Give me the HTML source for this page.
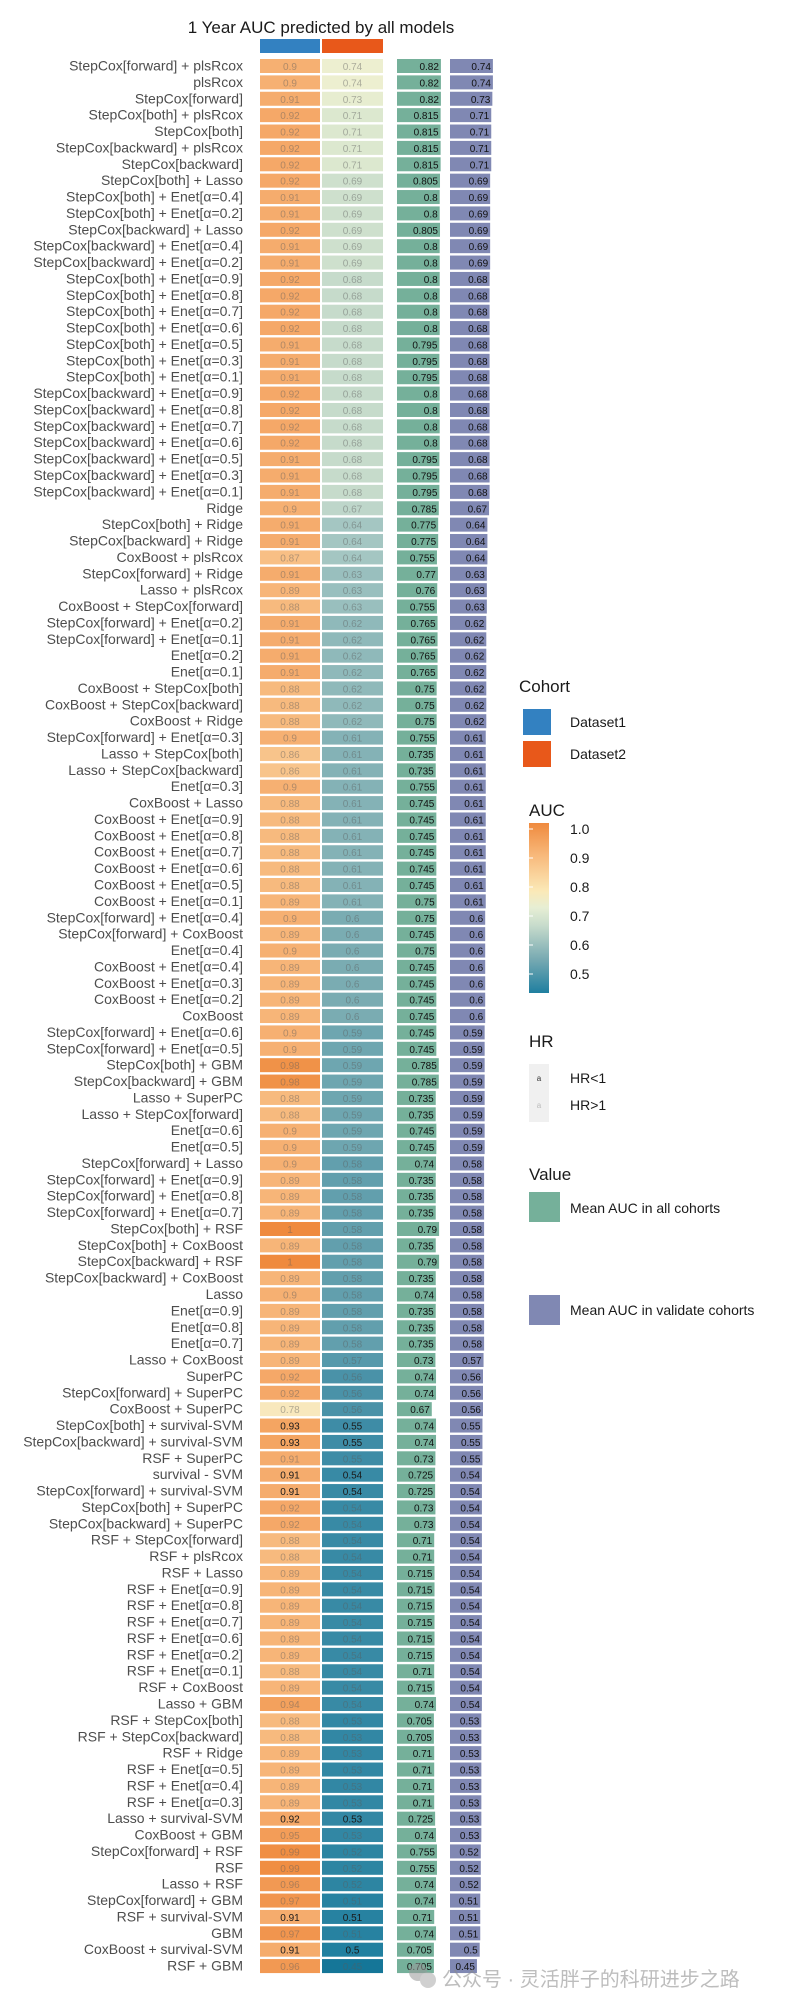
<!DOCTYPE html>
<html><head><meta charset="utf-8"><style>
html,body{margin:0;padding:0;background:#fff;}
svg{display:block;font-family:"Liberation Sans","Noto Sans CJK SC",sans-serif;}
</style></head><body>
<svg id="chart" width="800" height="2000" viewBox="0 0 800 2000" xmlns="http://www.w3.org/2000/svg">
<text x="321" y="33" font-size="17" text-anchor="middle" fill="#1a1a1a">1 Year AUC predicted by all models</text>
<rect x="260" y="39" width="60" height="14" fill="#3381c1"/>
<rect x="322" y="39" width="61" height="14" fill="#e8581a"/>
<g id="rows"></g>
<g>
<text x="519" y="692" font-size="17" fill="#1a1a1a">Cohort</text>
<rect x="523" y="709" width="28" height="26" fill="#3381c1"/>
<text x="570" y="727" font-size="14" fill="#1a1a1a">Dataset1</text>
<rect x="523" y="741" width="28" height="26" fill="#e8581a"/>
<text x="570" y="759" font-size="14" fill="#1a1a1a">Dataset2</text>
<text x="529" y="816" font-size="17" fill="#1a1a1a">AUC</text>
<defs><linearGradient id="cb" x1="0" y1="1" x2="0" y2="0">
<stop offset="0" stop-color="#1f7fa0"/><stop offset="0.2" stop-color="#78aab2"/><stop offset="0.4" stop-color="#c8dccc"/><stop offset="0.5" stop-color="#e6eed4"/><stop offset="0.6" stop-color="#fbe9b7"/><stop offset="0.8" stop-color="#f8bb7e"/><stop offset="1" stop-color="#ef8a3e"/></linearGradient></defs>
<rect x="529" y="823" width="20" height="170" fill="url(#cb)"/>
<g font-size="14" fill="#1a1a1a" id="cbticks"></g>
<text x="529" y="1047" font-size="17" fill="#1a1a1a">HR</text>
<rect x="529" y="1064" width="20" height="58" fill="#f0f0f0"/>
<text x="539" y="1081" font-size="8" fill="#333" text-anchor="middle">a</text>
<text x="539" y="1108" font-size="8" fill="#bbb" text-anchor="middle">a</text>
<text x="570" y="1083" font-size="14" fill="#1a1a1a">HR&lt;1</text>
<text x="570" y="1110" font-size="14" fill="#1a1a1a">HR&gt;1</text>
<text x="529" y="1180" font-size="17" fill="#1a1a1a">Value</text>
<rect x="529" y="1192" width="31" height="30" fill="#75b09a"/>
<text x="570" y="1213" font-size="14" fill="#1a1a1a">Mean AUC in all cohorts</text>
<rect x="529" y="1295" width="31" height="30" fill="#8088b3"/>
<text x="570" y="1315" font-size="14" fill="#1a1a1a">Mean AUC in validate cohorts</text>
</g>
<g opacity="0.55">
<circle cx="418" cy="1972" r="9" fill="#999"/><circle cx="428" cy="1980" r="8" fill="#aaa"/>
<text x="442" y="1986" font-size="20" fill="#888">公众号 · 灵活胖子的科研进步之路</text>
</g>
</svg>
<script>
const labels=["StepCox[forward] + plsRcox","plsRcox","StepCox[forward]","StepCox[both] + plsRcox","StepCox[both]","StepCox[backward] + plsRcox","StepCox[backward]","StepCox[both] + Lasso","StepCox[both] + Enet[α=0.4]","StepCox[both] + Enet[α=0.2]","StepCox[backward] + Lasso","StepCox[backward] + Enet[α=0.4]","StepCox[backward] + Enet[α=0.2]","StepCox[both] + Enet[α=0.9]","StepCox[both] + Enet[α=0.8]","StepCox[both] + Enet[α=0.7]","StepCox[both] + Enet[α=0.6]","StepCox[both] + Enet[α=0.5]","StepCox[both] + Enet[α=0.3]","StepCox[both] + Enet[α=0.1]","StepCox[backward] + Enet[α=0.9]","StepCox[backward] + Enet[α=0.8]","StepCox[backward] + Enet[α=0.7]","StepCox[backward] + Enet[α=0.6]","StepCox[backward] + Enet[α=0.5]","StepCox[backward] + Enet[α=0.3]","StepCox[backward] + Enet[α=0.1]","Ridge","StepCox[both] + Ridge","StepCox[backward] + Ridge","CoxBoost + plsRcox","StepCox[forward] + Ridge","Lasso + plsRcox","CoxBoost + StepCox[forward]","StepCox[forward] + Enet[α=0.2]","StepCox[forward] + Enet[α=0.1]","Enet[α=0.2]","Enet[α=0.1]","CoxBoost + StepCox[both]","CoxBoost + StepCox[backward]","CoxBoost + Ridge","StepCox[forward] + Enet[α=0.3]","Lasso + StepCox[both]","Lasso + StepCox[backward]","Enet[α=0.3]","CoxBoost + Lasso","CoxBoost + Enet[α=0.9]","CoxBoost + Enet[α=0.8]","CoxBoost + Enet[α=0.7]","CoxBoost + Enet[α=0.6]","CoxBoost + Enet[α=0.5]","CoxBoost + Enet[α=0.1]","StepCox[forward] + Enet[α=0.4]","StepCox[forward] + CoxBoost","Enet[α=0.4]","CoxBoost + Enet[α=0.4]","CoxBoost + Enet[α=0.3]","CoxBoost + Enet[α=0.2]","CoxBoost","StepCox[forward] + Enet[α=0.6]","StepCox[forward] + Enet[α=0.5]","StepCox[both] + GBM","StepCox[backward] + GBM","Lasso + SuperPC","Lasso + StepCox[forward]","Enet[α=0.6]","Enet[α=0.5]","StepCox[forward] + Lasso","StepCox[forward] + Enet[α=0.9]","StepCox[forward] + Enet[α=0.8]","StepCox[forward] + Enet[α=0.7]","StepCox[both] + RSF","StepCox[both] + CoxBoost","StepCox[backward] + RSF","StepCox[backward] + CoxBoost","Lasso","Enet[α=0.9]","Enet[α=0.8]","Enet[α=0.7]","Lasso + CoxBoost","SuperPC","StepCox[forward] + SuperPC","CoxBoost + SuperPC","StepCox[both] + survival-SVM","StepCox[backward] + survival-SVM","RSF + SuperPC","survival - SVM","StepCox[forward] + survival-SVM","StepCox[both] + SuperPC","StepCox[backward] + SuperPC","RSF + StepCox[forward]","RSF + plsRcox","RSF + Lasso","RSF + Enet[α=0.9]","RSF + Enet[α=0.8]","RSF + Enet[α=0.7]","RSF + Enet[α=0.6]","RSF + Enet[α=0.2]","RSF + Enet[α=0.1]","RSF + CoxBoost","Lasso + GBM","RSF + StepCox[both]","RSF + StepCox[backward]","RSF + Ridge","RSF + Enet[α=0.5]","RSF + Enet[α=0.4]","RSF + Enet[α=0.3]","Lasso + survival-SVM","CoxBoost + GBM","StepCox[forward] + RSF","RSF","Lasso + RSF","StepCox[forward] + GBM","RSF + survival-SVM","GBM","CoxBoost + survival-SVM","RSF + GBM"];
const dataset1=[0.9,0.9,0.91,0.92,0.92,0.92,0.92,0.92,0.91,0.91,0.92,0.91,0.91,0.92,0.92,0.92,0.92,0.91,0.91,0.91,0.92,0.92,0.92,0.92,0.91,0.91,0.91,0.9,0.91,0.91,0.87,0.91,0.89,0.88,0.91,0.91,0.91,0.91,0.88,0.88,0.88,0.9,0.86,0.86,0.9,0.88,0.88,0.88,0.88,0.88,0.88,0.89,0.9,0.89,0.9,0.89,0.89,0.89,0.89,0.9,0.9,0.98,0.98,0.88,0.88,0.9,0.9,0.9,0.89,0.89,0.89,1,0.89,1,0.89,0.9,0.89,0.89,0.89,0.89,0.92,0.92,0.78,0.93,0.93,0.91,0.91,0.91,0.92,0.92,0.88,0.88,0.89,0.89,0.89,0.89,0.89,0.89,0.88,0.89,0.94,0.88,0.88,0.89,0.89,0.89,0.89,0.92,0.95,0.99,0.99,0.96,0.97,0.91,0.97,0.91,0.96];
const dataset2=[0.74,0.74,0.73,0.71,0.71,0.71,0.71,0.69,0.69,0.69,0.69,0.69,0.69,0.68,0.68,0.68,0.68,0.68,0.68,0.68,0.68,0.68,0.68,0.68,0.68,0.68,0.68,0.67,0.64,0.64,0.64,0.63,0.63,0.63,0.62,0.62,0.62,0.62,0.62,0.62,0.62,0.61,0.61,0.61,0.61,0.61,0.61,0.61,0.61,0.61,0.61,0.61,0.6,0.6,0.6,0.6,0.6,0.6,0.6,0.59,0.59,0.59,0.59,0.59,0.59,0.59,0.59,0.58,0.58,0.58,0.58,0.58,0.58,0.58,0.58,0.58,0.58,0.58,0.58,0.57,0.56,0.56,0.56,0.55,0.55,0.55,0.54,0.54,0.54,0.54,0.54,0.54,0.54,0.54,0.54,0.54,0.54,0.54,0.54,0.54,0.54,0.53,0.53,0.53,0.53,0.53,0.53,0.53,0.53,0.52,0.52,0.52,0.51,0.51,0.51,0.5,0.45];
const meanAll=[0.82,0.82,0.82,0.815,0.815,0.815,0.815,0.805,0.8,0.8,0.805,0.8,0.8,0.8,0.8,0.8,0.8,0.795,0.795,0.795,0.8,0.8,0.8,0.8,0.795,0.795,0.795,0.785,0.775,0.775,0.755,0.77,0.76,0.755,0.765,0.765,0.765,0.765,0.75,0.75,0.75,0.755,0.735,0.735,0.755,0.745,0.745,0.745,0.745,0.745,0.745,0.75,0.75,0.745,0.75,0.745,0.745,0.745,0.745,0.745,0.745,0.785,0.785,0.735,0.735,0.745,0.745,0.74,0.735,0.735,0.735,0.79,0.735,0.79,0.735,0.74,0.735,0.735,0.735,0.73,0.74,0.74,0.67,0.74,0.74,0.73,0.725,0.725,0.73,0.73,0.71,0.71,0.715,0.715,0.715,0.715,0.715,0.715,0.71,0.715,0.74,0.705,0.705,0.71,0.71,0.71,0.71,0.725,0.74,0.755,0.755,0.74,0.74,0.71,0.74,0.705,0.705];
const meanValidate=[0.74,0.74,0.73,0.71,0.71,0.71,0.71,0.69,0.69,0.69,0.69,0.69,0.69,0.68,0.68,0.68,0.68,0.68,0.68,0.68,0.68,0.68,0.68,0.68,0.68,0.68,0.68,0.67,0.64,0.64,0.64,0.63,0.63,0.63,0.62,0.62,0.62,0.62,0.62,0.62,0.62,0.61,0.61,0.61,0.61,0.61,0.61,0.61,0.61,0.61,0.61,0.61,0.6,0.6,0.6,0.6,0.6,0.6,0.6,0.59,0.59,0.59,0.59,0.59,0.59,0.59,0.59,0.58,0.58,0.58,0.58,0.58,0.58,0.58,0.58,0.58,0.58,0.58,0.58,0.57,0.56,0.56,0.56,0.55,0.55,0.55,0.54,0.54,0.54,0.54,0.54,0.54,0.54,0.54,0.54,0.54,0.54,0.54,0.54,0.54,0.54,0.53,0.53,0.53,0.53,0.53,0.53,0.53,0.53,0.52,0.52,0.52,0.51,0.51,0.51,0.5,0.45];
const hrBelowOneRows=[83,84,86,87,107,113,115];
const cbTicks=[1.0,0.9,0.8,0.7,0.6,0.5];

const svgNS="http://www.w3.org/2000/svg";
const rowTop=59, pitch=16.38, cellH=14;
const yOf=i=>rowTop+i*pitch;
const stops=[[0.45,[21,118,152]],[0.5,[33,128,160]],[0.55,[62,140,166]],[0.6,[122,172,178]],[0.65,[174,204,198]],[0.7,[214,229,207]],[0.75,[243,242,208]],[0.8,[251,226,176]],[0.9,[246,176,114]],[1.0,[239,138,62]]];
function colorOf(v){
  if(v<=stops[0][0])return `rgb(${stops[0][1]})`;
  for(let k=1;k<stops.length;k++){if(v<=stops[k][0]){const a=stops[k-1],b=stops[k],t=(v-a[0])/(b[0]-a[0]);return `rgb(${a[1].map((c,j)=>Math.round(c+(b[1][j]-c)*t)).join(',')})`;}}
  return `rgb(${stops[stops.length-1][1]})`;
}
const wAll=v=>(v-0.1)*61, wVal=v=>(v+0.04)*55;
function mk(tag,attrs,parent){const e=document.createElementNS(svgNS,tag);for(const k in attrs)e.setAttribute(k,attrs[k]);parent.appendChild(e);return e;}
const g=document.getElementById('rows');
const fmt=v=>String(+v.toFixed(3));
labels.forEach((lab,i)=>{
  const y=yOf(i), cy=y+cellH/2+4.5, dark=hrBelowOneRows.includes(i);
  const t=mk('text',{x:243,y:cy,'font-size':14,'text-anchor':'end',fill:'#4d4d4d'},g);
  
  
  t.textContent=lab;
  [[dataset1[i],260,60],[dataset2[i],322,61]].forEach(([v,x,w],c)=>{
    const r=mk('rect',{x:x,y:y,width:w,height:cellH,fill:colorOf(v)},g);
    
    
    const tx=mk('text',{x:x+w/2,y:y+11,'font-size':10,'text-anchor':'middle',fill:dark?'#1a1a1a':'rgba(90,90,90,0.45)'},g);
    
    
    tx.textContent=fmt(v);
  });
  const ba=mk('rect',{x:397,y:y,width:wAll(meanAll[i]),height:cellH,fill:'#75b09a'},g);
  
  
  const ta=mk('text',{x:397+wAll(meanAll[i])-2,y:y+11,'font-size':10,'text-anchor':'end',fill:'#111'},g);
  
  
  ta.textContent=fmt(meanAll[i]);
  const bv=mk('rect',{x:450,y:y,width:wVal(meanValidate[i]),height:cellH,fill:'#8088b3'},g);
  
  
  const tv=mk('text',{x:450+wVal(meanValidate[i])-2,y:y+11,'font-size':10,'text-anchor':'end',fill:'#111'},g);
  
  
  tv.textContent=fmt(meanValidate[i]);
});
const cbg=document.getElementById('cbticks');
const cbY=v=>974-(v-0.5)/0.5*145;
cbTicks.forEach(v=>{
  const t=mk('text',{x:570,y:cbY(v)+5},cbg);
  
  
  t.textContent=v.toFixed(1);
  const l=mk('line',{x1:529,x2:533,y1:cbY(v),y2:cbY(v),stroke:'#fff','stroke-width':1},cbg);
  
  
});
</script>
</body></html>
